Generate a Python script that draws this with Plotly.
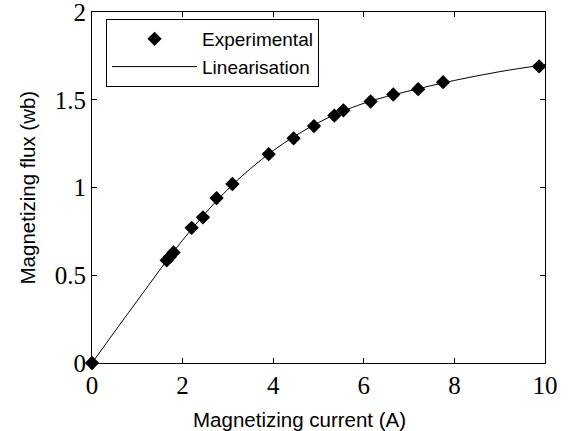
import plotly.graph_objects as go

# Experimental points
exp_current = [0, 1.65, 1.72, 1.8, 2.2, 2.45, 2.75, 3.1, 3.9, 4.45, 4.9, 5.35, 5.55, 6.15, 6.65, 7.2, 7.75, 9.87]
exp_flux = [0, 0.585, 0.605, 0.63, 0.77, 0.83, 0.94, 1.02, 1.19, 1.28, 1.35, 1.41, 1.44, 1.49, 1.53, 1.56, 1.60, 1.69]

# Linearisation curve
lin_current = [0, 1, 2, 3, 4, 5, 6, 7, 8, 9, 10]
lin_flux = [0, 0.355, 0.70, 0.99, 1.21, 1.37, 1.48, 1.55, 1.61, 1.66, 1.70]

x_ticks = [0, 2, 4, 6, 8, 10]
y_ticks = [0, 0.5, 1, 1.5, 2]
y_tick_text = ["0", "0.5", "1", "1.5", "2"]

x_title = "Magnetizing current (A)"
y_title = "Magnetizing flux (wb)"

SERIF = "Times New Roman, Liberation Serif, serif"
SANS = "Arial, Liberation Sans, sans-serif"

fig = go.Figure()
fig.add_trace(go.Scatter(
    x=exp_current, y=exp_flux, mode="markers", name="Experimental",
    marker=dict(symbol="diamond", size=11, color="black"), cliponaxis=False,
))
fig.add_trace(go.Scatter(
    x=exp_current, y=exp_flux, mode="markers", showlegend=False,
    marker=dict(symbol="cross", size=9, color="black"), cliponaxis=False,
))
fig.add_trace(go.Scatter(
    x=lin_current, y=lin_flux, mode="lines", name="Linearisation",
    line=dict(color="black", width=1, shape="spline"),
))

axis_common = dict(
    showline=True, linecolor="black", linewidth=1, mirror="ticks",
    ticks="inside", ticklen=5, tickcolor="black", showgrid=False, zeroline=False,
    tickfont=dict(family=SERIF, size=25, color="black"),
    ticklabeloverflow="allow", automargin=False,
)

fig.update_layout(
    width=574, height=431,
    margin=dict(l=92, r=29, t=12, b=68),
    paper_bgcolor="white", plot_bgcolor="white",
    xaxis=dict(range=[0, 10], tickvals=x_ticks, ticktext=[str(t) for t in x_ticks],
               **axis_common),
    yaxis=dict(range=[0, 2], tickvals=y_ticks, ticktext=y_tick_text,
               **axis_common),
    legend=dict(x=0.031, y=0.98, xanchor="left", yanchor="top",
                bordercolor="black", borderwidth=1, bgcolor="white",
                font=dict(family=SANS, size=19, color="black"),
                itemwidth=85, tracegroupgap=0),
    showlegend=True,
    annotations=[
        dict(text=x_title, xref="paper", yref="paper", x=0.459, y=0,
             xanchor="center", yanchor="top", yshift=-43, showarrow=False,
             font=dict(family=SANS, size=20.5, color="black")),
        dict(text=y_title, xref="paper", yref="paper", x=0, y=0.5,
             xanchor="center", yanchor="middle", xshift=-65, textangle=-90,
             showarrow=False, font=dict(family=SANS, size=20.5, color="black")),
    ],
)

fig.write_html("out.html")
